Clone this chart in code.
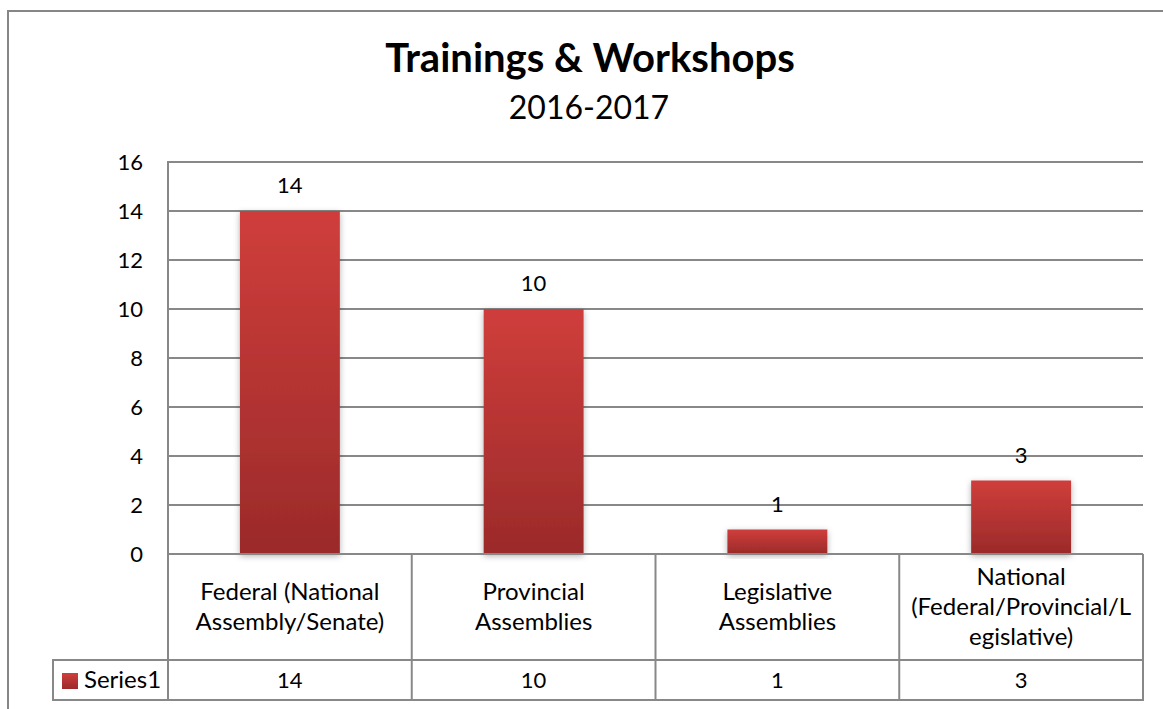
<!DOCTYPE html>
<html>
<head>
<meta charset="utf-8">
<script src="https://cdn.jsdelivr.net/npm/d3@7"></script>
<style>
  body { margin: 0; background: #fff; }
  text { font-family: Lato, "Open Sans", sans-serif; fill: #000; }
</style>
</head>
<body>
<div id="container"></div>
<script>
// chart data
const categories = [
  "Federal (National Assembly/Senate)",
  "Provincial Assemblies",
  "Legislative Assemblies",
  "National (Federal/Provincial/Legislative)"
];
// wrapped label lines as shown in the data table
const categoryLines = [
  ["Federal (National", "Assembly/Senate)"],
  ["Provincial", "Assemblies"],
  ["Legislative", "Assemblies"],
  ["National", "(Federal/Provincial/L", "egislative)"]
];
const values = [14, 10, 1, 3];
const yTicks = [0, 2, 4, 6, 8, 10, 12, 14, 16];
const seriesName = "Series1";
const title = "Trainings & Workshops";
const subtitle = "2016-2017";

const width = 1163;
const height = 709;
const gridColor = "#888888";

const plot = { left: 168, right: 1143, top: 162, bottom: 554 };
const tableRow1 = 660; // bottom of category row
const tableRow2 = 700; // bottom of series row
const legendLeft = 53;

const svg = d3
  .select("#container")
  .append("svg")
  .attr("width", width)
  .attr("height", height);

const defs = svg.append("defs");

// bar gradient
const grad = defs
  .append("linearGradient")
  .attr("id", "barGrad")
  .attr("x1", 0).attr("y1", 0)
  .attr("x2", 0).attr("y2", 1);
grad.append("stop").attr("offset", "0%").attr("stop-color", "#cf3e3b");
grad.append("stop").attr("offset", "100%").attr("stop-color", "#9b2a2a");

// soft shadow around bars
const filter = defs
  .append("filter")
  .attr("id", "shadow")
  .attr("x", "-20%").attr("y", "-20%")
  .attr("width", "140%").attr("height", "140%");
filter
  .append("feDropShadow")
  .attr("dx", 0)
  .attr("dy", 2)
  .attr("stdDeviation", 3)
  .attr("flood-color", "#000")
  .attr("flood-opacity", 0.3);

// outer chart border
svg
  .append("path")
  .attr("d", `M8,${height + 5} V11 H${width + 5}`)
  .attr("fill", "none")
  .attr("stroke", "#868686")
  .attr("stroke-width", 2);

// title
svg
  .append("text")
  .attr("x", 590)
  .attr("y", 72)
  .attr("text-anchor", "middle")
  .style("font-size", "40px")
  .style("font-weight", "bold")
  .text(title);

svg
  .append("text")
  .attr("x", 589)
  .attr("y", 119)
  .attr("text-anchor", "middle")
  .style("font-size", "32px")
  .text(subtitle);

// scales
const x = d3
  .scaleBand()
  .domain(categories)
  .range([plot.left, plot.right])
  .padding(0);

const y = d3
  .scaleLinear()
  .domain([0, 16])
  .range([plot.bottom, plot.top]);

const barWidth = x.bandwidth() * 0.41;

// gridlines
svg
  .append("g")
  .selectAll("line")
  .data(yTicks)
  .enter()
  .append("line")
  .attr("x1", plot.left)
  .attr("x2", plot.right)
  .attr("y1", (d) => y(d))
  .attr("y2", (d) => y(d))
  .attr("stroke", gridColor)
  .attr("stroke-width", 2);

// y axis labels
const yAxis = d3
  .axisLeft(y)
  .tickValues(yTicks)
  .tickSize(0)
  .tickPadding(25)
  .tickFormat(d3.format("d"));

const yAxisG = svg
  .append("g")
  .attr("transform", `translate(${plot.left},0)`)
  .call(yAxis);
yAxisG.select(".domain").remove();
yAxisG
  .selectAll("text")
  .style("font-size", "22px")
  .style("font-family", "Lato, 'Open Sans', sans-serif")
  .attr("fill", "#000");

// bars
svg
  .append("g")
  .selectAll("rect")
  .data(values)
  .enter()
  .append("rect")
  .attr("x", (d, i) => x(categories[i]) + (x.bandwidth() - barWidth) / 2)
  .attr("y", (d) => y(d))
  .attr("width", barWidth)
  .attr("height", (d) => y(0) - y(d))
  .attr("fill", "url(#barGrad)")
  .attr("filter", "url(#shadow)");

// data labels
svg
  .append("g")
  .selectAll("text")
  .data(values)
  .enter()
  .append("text")
  .attr("x", (d, i) => x(categories[i]) + x.bandwidth() / 2)
  .attr("y", (d) => y(d) - 18)
  .attr("text-anchor", "middle")
  .style("font-size", "22px")
  .text((d) => d);

// data table lines
const table = svg
  .append("g")
  .attr("fill", "none")
  .attr("stroke", gridColor)
  .attr("stroke-width", 2);

// vertical axis line, continues down the table
table
  .append("line")
  .attr("x1", plot.left).attr("x2", plot.left)
  .attr("y1", plot.top - 1).attr("y2", tableRow2 + 1);

// horizontal table rules
[plot.bottom, tableRow1, tableRow2].forEach((yy, i) => {
  table
    .append("line")
    .attr("x1", i === 0 ? plot.left : legendLeft)
    .attr("x2", plot.right)
    .attr("y1", yy).attr("y2", yy);
});

// column separators
categories.forEach((c) => {
  const xr = x(c) + x.bandwidth();
  table
    .append("line")
    .attr("x1", xr).attr("x2", xr)
    .attr("y1", plot.bottom).attr("y2", tableRow2 + 1);
});

// legend cell left edge
table
  .append("line")
  .attr("x1", legendLeft).attr("x2", legendLeft)
  .attr("y1", tableRow1 - 1).attr("y2", tableRow2 + 1);

// category labels
const lineHeight = 30;
const rowMid = (plot.bottom + tableRow1) / 2;
categories.forEach((c, i) => {
  const lines = categoryLines[i];
  const t = svg
    .append("text")
    .attr("text-anchor", "middle")
    .style("font-size", "24px");
  lines.forEach((ln, j) => {
    t.append("tspan")
      .attr("x", x(c) + x.bandwidth() / 2)
      .attr("y", rowMid + (j - (lines.length - 1) / 2) * lineHeight + 8)
      .text(ln);
  });
});

// series row values
svg
  .append("g")
  .selectAll("text")
  .data(values)
  .enter()
  .append("text")
  .attr("x", (d, i) => x(categories[i]) + x.bandwidth() / 2)
  .attr("y", (tableRow1 + tableRow2) / 2 + 8)
  .attr("text-anchor", "middle")
  .style("font-size", "22px")
  .text((d) => d);

// legend key
svg
  .append("rect")
  .attr("x", 62)
  .attr("y", 673)
  .attr("width", 16)
  .attr("height", 16)
  .attr("fill", "url(#barGrad)");

svg
  .append("text")
  .attr("x", 84)
  .attr("y", (tableRow1 + tableRow2) / 2 + 8)
  .style("font-size", "24px")
  .text(seriesName);
</script>
</body>
</html>
